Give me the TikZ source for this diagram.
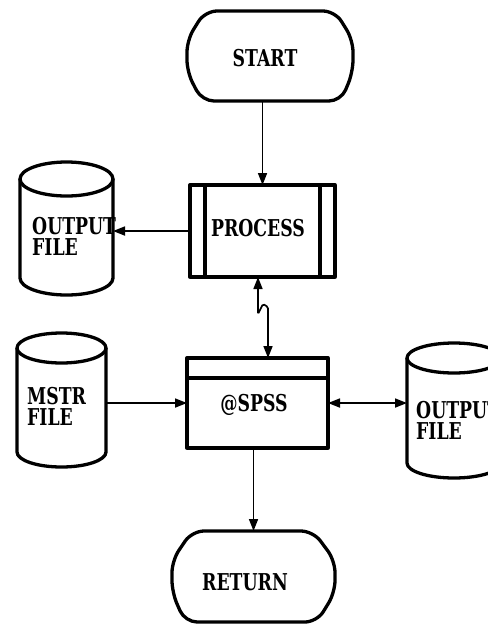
\documentclass[tikz,border=0pt]{standalone}
\usepackage{fontspec}
\newfontfamily\lblfont{DejaVu Serif}
\usetikzlibrary{arrows.meta,calc}
\newcommand{\sy}[1]{\scalebox{1.08}[1.45]{#1}}
\newcommand{\mycyl}[5]{%
  \node[frame, minimum width=#3pt, minimum height=#4pt] (#1) at (#2) {};
  \draw[shapeline] ([yshift=-#5pt]#1.north) ellipse [x radius=#3pt/2, y radius=#5pt];
  \draw[shapeline] ([yshift=-#5pt]#1.north west) -- ([yshift=#5pt]#1.south west)
     arc[start angle=180, end angle=360, x radius=#3pt/2, y radius=#5pt]
     -- ([yshift=-#5pt]#1.north east);
}
\begin{document}
\begin{tikzpicture}[x=1pt,y=-1pt,
  shapeline/.style={line width=3.3pt, line join=round},
  conn/.style={line width=1.7pt},
  tip/.style={-{Triangle[length=12pt,width=9pt]}},
  tips/.style={{Triangle[length=12pt,width=9pt]}-{Triangle[length=12pt,width=9pt]}},
  lbl/.style={font=\lblfont\bfseries\fontsize{16}{21}\selectfont, inner sep=0pt, align=left},
  frame/.style={rectangle, inner sep=0pt, outer sep=0pt},
]
\useasboundingbox (0,0) rectangle (488,625);
\fill[white] (0,0) rectangle (488,625);

% START terminal
\node[frame, minimum width=166pt, minimum height=90pt] (start) at (270,56) {};
\draw[shapeline, rounded corners=12pt]
  ($(start.north west)+(18,0)$) -- ($(start.north east)+(-18,0)$)
  -- ($(start.east)+(0,-16)$) -- ($(start.east)+(0,16)$)
  -- ($(start.south east)+(-12,0)$) -- ($(start.south west)+(15,0)$)
  -- ($(start.west)+(0,16)$) -- ($(start.west)+(0,-16)$) -- cycle;
\node[lbl] (starttxt) at (265,58) {\sy{START}};

% PROCESS box
\node[frame, draw, shapeline, minimum width=145pt, minimum height=92pt] (proc) at (262.5,231) {};
\draw[shapeline] ($(proc.north west)+(15,0)$) -- ($(proc.south west)+(15,0)$);
\draw[shapeline] ($(proc.north east)+(-15,0)$) -- ($(proc.south east)+(-15,0)$);
\node[lbl] (proctxt) at (258,228) {\sy{PROCESS}};

% @SPSS box
\node[frame, draw, shapeline, minimum width=141pt, minimum height=90pt] (spss) at (257.5,403) {};
\draw[shapeline] ($(spss.north west)+(0,20)$) -- ($(spss.north east)+(0,20)$);
\node[lbl] (spsstxt) at (254,405) {\sy{@SPSS}};

% RETURN terminal
\node[frame, minimum width=163pt, minimum height=91pt] (ret) at (253.5,576.5) {};
\draw[shapeline, rounded corners=12pt]
  ($(ret.north west)+(20,0)$) -- ($(ret.north east)+(-22,0)$)
  -- ($(ret.east)+(0,-16)$) -- ($(ret.east)+(0,16)$)
  -- ($(ret.south east)+(-18,0)$) -- ($(ret.south west)+(13,0)$)
  -- ($(ret.west)+(0,16)$) -- ($(ret.west)+(0,-16)$) -- cycle;
\node[lbl] (rettxt) at (245,582) {\sy{RETURN}};

% cylinders
\mycyl{out1}{66.5,228.5}{93}{133}{17}
\node[lbl, anchor=west] (out1txt) at (32,236) {\sy{OUTPUT}\\\sy{FILE}};
\mycyl{mstr}{61.5,400}{89}{134}{15}
\node[lbl, anchor=west] (mstrtxt) at (27,406.5) {\sy{MSTR}\\\sy{FILE}};
\mycyl{out3}{454,410.5}{94}{135}{15}
\node[lbl, anchor=west] (out3txt) at (416,420) {\sy{OUTPUT}\\\sy{FILE}};

% connectors
\draw[conn,tip] (proc.north |- start.south) -- (proc.north);
\draw[conn,tip] (proc.west) -- (proc.west -| out1.east);
\draw[conn,tips,rounded corners=1.5pt] ([xshift=-4.5pt]proc.south) -- ++(0,37) -- ++(5,-10) -- ++(5,3) -- ([xshift=10.5pt]spss.north);
\draw[conn,tip] (spss.west -| mstr.east) -- (spss.west);
\draw[conn,tips] (spss.east) -- (spss.east -| out3.west);
\draw[conn,tip] (ret.north |- spss.south) -- (ret.north);
\end{tikzpicture}
\end{document}
